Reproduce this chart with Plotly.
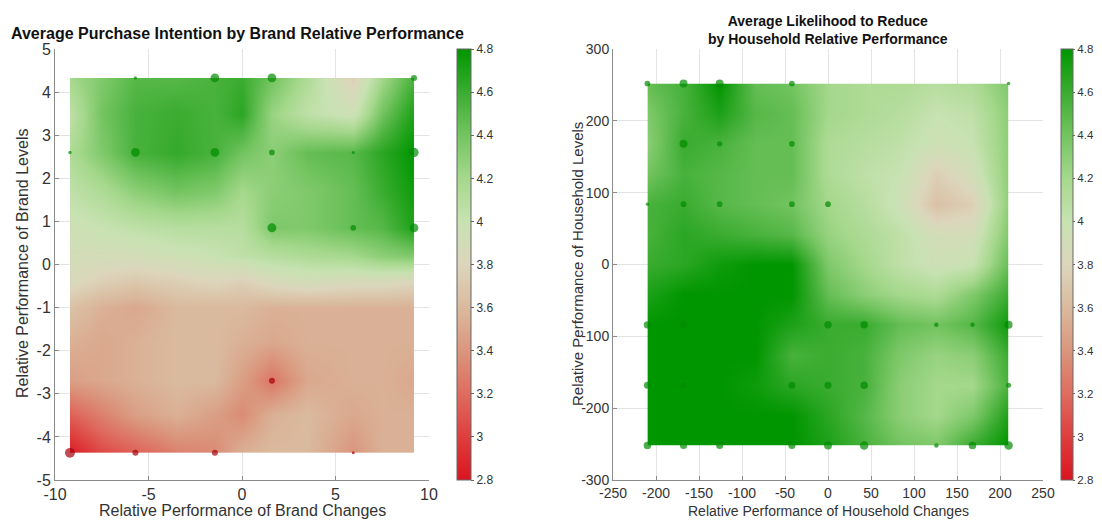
import numpy as np
import plotly.graph_objects as go

# ---------------- Left panel: brand ----------------
brand_grid_x = [-9.2, -7.5, -5.7, -3.5, -1.45, 0.0, 1.6, 3.5, 5.95, 7.5, 9.2]
brand_grid_y = [-4.37, -3.5, -2.7, -1.8, -1.0, -0.4, 0.2, 0.85, 1.7, 2.6, 3.5, 4.33]
brand_surface = [
    [2.85, 3.05, 3.15, 3.30, 3.35, 3.55, 3.60, 3.60, 3.40, 3.55, 3.55],
    [3.15, 3.30, 3.45, 3.55, 3.45, 3.35, 3.55, 3.60, 3.50, 3.55, 3.55],
    [3.45, 3.50, 3.55, 3.60, 3.60, 3.45, 3.25, 3.50, 3.55, 3.55, 3.50],
    [3.55, 3.50, 3.55, 3.60, 3.60, 3.55, 3.50, 3.55, 3.55, 3.55, 3.55],
    [3.65, 3.55, 3.50, 3.60, 3.60, 3.60, 3.55, 3.55, 3.55, 3.55, 3.55],
    [3.85, 3.75, 3.70, 3.75, 3.80, 3.75, 3.85, 3.90, 3.85, 3.85, 3.80],
    [3.90, 3.90, 3.90, 3.95, 4.00, 4.05, 4.10, 4.15, 4.20, 4.30, 4.35],
    [3.95, 4.00, 4.05, 4.10, 4.10, 4.10, 4.35, 4.35, 4.45, 4.50, 4.70],
    [4.05, 4.15, 4.30, 4.40, 4.35, 4.20, 4.30, 4.35, 4.45, 4.60, 4.75],
    [4.15, 4.35, 4.55, 4.62, 4.55, 4.40, 4.30, 4.45, 4.50, 4.65, 4.80],
    [4.05, 4.40, 4.55, 4.60, 4.55, 4.65, 4.25, 4.05, 3.95, 4.40, 4.70],
    [4.20, 4.35, 4.50, 4.50, 4.55, 4.60, 4.40, 4.15, 3.75, 4.20, 4.55],
]
brand_pt_x = [-5.7, -1.45, 1.6, 9.2,
              -9.2, -5.7, -1.45, 1.6, 5.95, 9.2,
              1.6, 5.95, 9.2,
              1.6,
              -9.2, -5.7, -1.45, 5.95]
brand_pt_y = [4.33, 4.33, 4.33, 4.33,
              2.6, 2.6, 2.6, 2.6, 2.6, 2.6,
              0.85, 0.85, 0.85,
              -2.7,
              -4.37, -4.37, -4.37, -4.37]
brand_pt_val = [4.5, 4.55, 4.4, 4.55,
                4.15, 4.55, 4.55, 4.3, 4.5, 4.8,
                4.35, 4.45, 4.7,
                3.25,
                2.85, 3.15, 3.35, 3.4]
brand_pt_n = [12, 85, 85, 40,
              13, 85, 85, 36, 10, 95,
              90, 36, 85,
              40,
              110, 40, 40, 10]
brand_xticks = [-10, -5, 0, 5, 10]
brand_xtick_text = ["-10", "-5", "0", "5", "10"]
brand_yticks = [-5, -4, -3, -2, -1, 0, 1, 2, 3, 4, 5]
brand_ytick_text = ["-5", "-4", "-3", "-2", "-1", "0", "1", "2", "3", "4", "5"]

# ---------------- Right panel: household ----------------
hh_grid_x = [-210, -168, -126, -84, -42, 0, 42, 84, 126, 168, 210]
hh_grid_y = [-252, -210, -168, -126, -84, -42, 0, 42, 84, 126, 168, 210, 252]
hh_surface = [
    [4.80, 4.80, 4.80, 4.80, 4.80, 4.70, 4.55, 4.40, 4.35, 4.60, 4.80],
    [4.80, 4.80, 4.80, 4.80, 4.80, 4.65, 4.50, 4.30, 4.20, 4.35, 4.70],
    [4.80, 4.80, 4.80, 4.75, 4.65, 4.60, 4.55, 4.30, 4.20, 4.20, 4.55],
    [4.80, 4.80, 4.80, 4.80, 4.55, 4.60, 4.55, 4.35, 4.25, 4.30, 4.60],
    [4.80, 4.80, 4.80, 4.80, 4.70, 4.60, 4.60, 4.45, 4.40, 4.50, 4.75],
    [4.70, 4.80, 4.80, 4.80, 4.80, 4.45, 4.30, 4.20, 4.15, 4.35, 4.60],
    [4.60, 4.65, 4.75, 4.80, 4.80, 4.35, 4.20, 4.05, 3.95, 4.00, 4.45],
    [4.55, 4.65, 4.60, 4.55, 4.50, 4.25, 4.15, 4.05, 3.90, 3.90, 4.35],
    [4.55, 4.60, 4.50, 4.45, 4.40, 4.20, 4.10, 3.95, 3.65, 3.75, 4.30],
    [4.40, 4.55, 4.50, 4.45, 4.45, 4.15, 4.05, 4.00, 3.75, 3.90, 4.30],
    [4.30, 4.60, 4.55, 4.45, 4.45, 4.15, 4.10, 4.05, 3.95, 4.00, 4.30],
    [4.35, 4.55, 4.70, 4.50, 4.45, 4.20, 4.15, 4.10, 4.00, 4.05, 4.30],
    [4.45, 4.55, 4.80, 4.45, 4.40, 4.20, 4.15, 4.15, 4.10, 4.15, 4.35],
]
hh_pt_x = [-210, -168, -126, -42, 210,
           -168, -126, -42,
           -210, -168, -126, -42, 0,
           -210, -168, 0, 42, 126, 168, 210,
           -210, -168, -42, 0, 42, 210,
           -210, -168, -126, -42, 0, 42, 126, 168, 210]
hh_pt_y = [252, 252, 252, 252, 252,
           168, 168, 168,
           84, 84, 84, 84, 84,
           -84, -84, -84, -84, -84, -84, -84,
           -168, -168, -168, -168, -168, -168,
           -252, -252, -252, -252, -252, -252, -252, -252, -252]
hh_pt_val = [4.45, 4.55, 4.8, 4.4, 4.35,
             4.6, 4.55, 4.45,
             4.55, 4.6, 4.5, 4.4, 4.2,
             4.8, 4.8, 4.6, 4.6, 4.4, 4.5, 4.75,
             4.8, 4.8, 4.65, 4.6, 4.55, 4.55,
             4.8, 4.8, 4.8, 4.8, 4.7, 4.55, 4.35, 4.6, 4.8]
hh_pt_n = [36, 70, 70, 36, 12,
           70, 32, 36,
           12, 36, 36, 36, 36,
           60, 55, 62, 62, 22, 22, 70,
           55, 40, 55, 55, 62, 28,
           62, 55, 55, 55, 70, 80, 22, 62, 80]
hh_xticks = [-250, -200, -150, -100, -50, 0, 50, 100, 150, 200, 250]
hh_xtick_text = ["-250", "-200", "-150", "-100", "-50", "0", "50", "100", "150", "200", "250"]
hh_yticks = [-300, -200, -100, 0, 100, 200, 300]
hh_ytick_text = ["-300", "-200", "-100", "0", "100", "200", "300"]

cbar_ticks = [2.8, 3.0, 3.2, 3.4, 3.6, 3.8, 4.0, 4.2, 4.4, 4.6, 4.8]
cbar_tick_text = ["2.8", "3", "3.2", "3.4", "3.6", "3.8", "4", "4.2", "4.4", "4.6", "4.8"]

# ---------------- styling ----------------
stops = [2.8, 3.0, 3.2, 3.4, 3.6, 3.8, 4.0, 4.2, 4.4, 4.6, 4.8]
stop_colors = ["rgb(218,20,32)", "rgb(222,62,62)", "rgb(222,108,95)", "rgb(218,150,125)",
               "rgb(218,186,158)", "rgb(220,214,188)", "rgb(200,226,178)", "rgb(165,216,140)",
               "rgb(115,196,96)", "rgb(58,172,48)", "rgb(0,150,0)"]
cscale = [[(s - 2.8) / 2.0, c] for s, c in zip(stops, stop_colors)]

GREEN_PT = "rgb(0,140,0)"
RED_PT = "rgb(168,0,10)"


def pt_colors(vals):
    return [GREEN_PT if v >= 3.8 else RED_PT for v in vals]


def pt_sizes(ns):
    return [3.0 * np.sqrt(n / 10.0) for n in ns]


# page has an 8px body margin; work in screenshot pixels and convert
OFF = 8
W, H = 1102 - OFF, 520 - OFF


def px(X):
    return (X - OFF) / W


def py(Y):
    return 1 - (Y - OFF) / H


fig = go.Figure()

fig.add_trace(go.Contour(x=brand_grid_x, y=brand_grid_y, z=brand_surface,
                         coloraxis="coloraxis", contours=dict(coloring="heatmap", showlines=False),
                         line=dict(width=0), xaxis="x", yaxis="y", hoverinfo="skip"))
fig.add_trace(go.Scatter(x=brand_pt_x, y=brand_pt_y, mode="markers", xaxis="x", yaxis="y",
                         marker=dict(size=pt_sizes(brand_pt_n), color=pt_colors(brand_pt_val),
                                     line=dict(width=0)), showlegend=False))
fig.add_trace(go.Contour(x=hh_grid_x, y=hh_grid_y, z=hh_surface,
                         coloraxis="coloraxis2", contours=dict(coloring="heatmap", showlines=False),
                         line=dict(width=0), xaxis="x2", yaxis="y2", hoverinfo="skip"))
fig.add_trace(go.Scatter(x=hh_pt_x, y=hh_pt_y, mode="markers", xaxis="x2", yaxis="y2",
                         marker=dict(size=pt_sizes(hh_pt_n), color=pt_colors(hh_pt_val),
                                     line=dict(width=0)), showlegend=False))

FONT = "Liberation Sans, Arial, sans-serif"
ytop, ybot = 49, 480
ydom = [py(ybot), py(ytop)]

axis_common = dict(showgrid=True, gridcolor="#e3e3e3", gridwidth=1, zeroline=False,
                   showline=True, linecolor="#8a8a8a", linewidth=1, ticks="inside",
                   ticklen=4, tickcolor="#8a8a8a", mirror=False)

cb_common = dict(lenmode="pixels", len=ybot - ytop, y=ydom[0], yanchor="bottom",
                 xanchor="left", xpad=0, ypad=0, outlinewidth=1, outlinecolor="#666",
                 tickcolor="#666", ticks="outside",
                 tickvals=cbar_ticks, ticktext=cbar_tick_text)

fig.update_layout(
    width=W, height=H,
    margin=dict(l=0, r=0, t=0, b=0, autoexpand=False),
    paper_bgcolor="white", plot_bgcolor="white",
    font=dict(family=FONT, color="#333"),
    showlegend=False,
    xaxis=dict(domain=[px(55), px(429)], range=[-10, 10], tickvals=brand_xticks,
               ticktext=brand_xtick_text, anchor="y",
               tickfont=dict(size=16, color="#333"), **axis_common),
    yaxis=dict(domain=ydom, range=[-5, 5], tickvals=brand_yticks, ticktext=brand_ytick_text,
               anchor="x", tickfont=dict(size=16, color="#333"), **axis_common),
    xaxis2=dict(domain=[px(613), px(1043)], range=[-250, 250], tickvals=hh_xticks,
                ticktext=hh_xtick_text, anchor="y2",
                tickfont=dict(size=14, color="#333"), **axis_common),
    yaxis2=dict(domain=ydom, range=[-300, 300], tickvals=hh_yticks, ticktext=hh_ytick_text,
                anchor="x2", tickfont=dict(size=14, color="#333"), **axis_common),
    coloraxis=dict(colorscale=cscale, cmin=2.8, cmax=4.8,
                   colorbar=dict(x=px(457), thickness=14, ticklen=3,
                                 tickfont=dict(size=12, color="#333", family=FONT),
                                 **cb_common)),
    coloraxis2=dict(colorscale=cscale, cmin=2.8, cmax=4.8,
                    colorbar=dict(x=px(1061), thickness=12, ticklen=2,
                                  tickfont=dict(size=11.5, color="#333", family=FONT),
                                  **cb_common)),
)

annos = [
    dict(text="<b>Average Purchase Intention by Brand Relative Performance</b>", x=px(9), y=py(33),
         xanchor="left", yanchor="middle", font=dict(size=16, color="#111")),
    dict(text="<b>Average Likelihood to Reduce<br>by Household Relative Performance</b>", x=px(828),
         y=py(30), xanchor="center", yanchor="middle", font=dict(size=14, color="#111")),
    dict(text="Relative Performance of Brand Changes", x=px(242), y=py(510),
         xanchor="center", yanchor="middle", font=dict(size=16, color="#333")),
    dict(text="Relative Performance of Household Changes", x=px(828), y=py(511),
         xanchor="center", yanchor="middle", font=dict(size=14, color="#333")),
    dict(text="Relative Performance of Brand Levels", x=px(22), y=py(264), textangle=-90,
         xanchor="center", yanchor="middle", font=dict(size=16, color="#333")),
    dict(text="Relative Performance of Household Levels", x=px(577), y=py(264), textangle=-90,
         xanchor="center", yanchor="middle", font=dict(size=15, color="#333")),
]
for a in annos:
    a.update(xref="paper", yref="paper", showarrow=False)
fig.update_layout(annotations=annos)

fig.write_html("out.html")
